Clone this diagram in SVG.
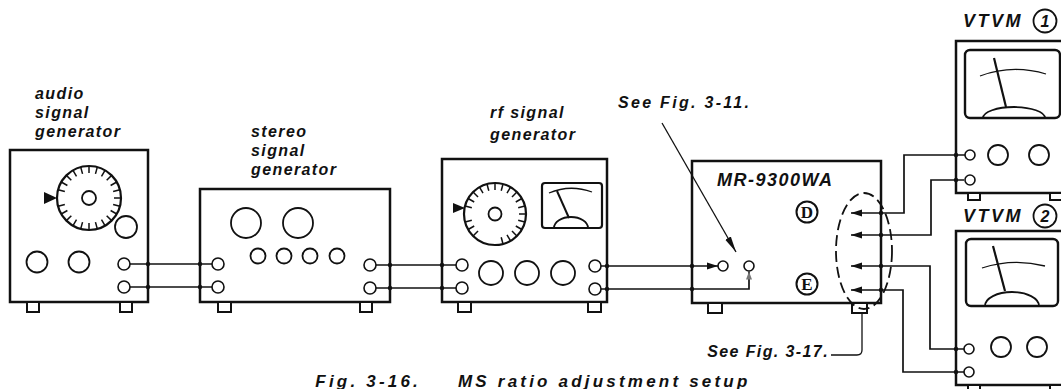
<svg xmlns="http://www.w3.org/2000/svg" width="1061" height="389" viewBox="0 0 1061 389">
<defs>
<style>
.bx{fill:none;stroke:#111;stroke-width:2.5}
.ft{fill:#fff;stroke:#111;stroke-width:2}
.kn{fill:#fff;stroke:#111;stroke-width:1.8}
.jk{fill:#fff;stroke:#111;stroke-width:1.6}
.w{fill:none;stroke:#111;stroke-width:1.7}
.thin{fill:none;stroke:#111;stroke-width:1.3}
.dot{fill:#111}
.lbl{font-family:"Liberation Sans",Arial,sans-serif;font-weight:bold;font-style:italic;font-size:16px;letter-spacing:1.4px;fill:#111}
.note{font-family:"Liberation Sans",Arial,sans-serif;font-weight:bold;font-style:italic;font-size:16px;letter-spacing:2.3px;fill:#111}
.model{font-family:"Liberation Sans",Arial,sans-serif;font-weight:bold;font-style:italic;font-size:18px;letter-spacing:1.5px;fill:#111}
.vt{font-family:"Liberation Sans",Arial,sans-serif;font-weight:bold;font-style:italic;font-size:18px;letter-spacing:2.5px;fill:#111}
.num{font-family:"Liberation Sans",Arial,sans-serif;font-weight:bold;font-style:italic;font-size:16px;fill:#111;text-anchor:middle}
.ser{font-family:"Liberation Serif","Times New Roman",serif;font-weight:bold;font-size:17px;fill:#111;text-anchor:middle}
.cap{font-family:"Liberation Sans",Arial,sans-serif;font-weight:bold;font-style:italic;font-size:17px;letter-spacing:3.2px;fill:#111}
</style>
<marker id="arrL" markerUnits="userSpaceOnUse" markerWidth="12" markerHeight="8" refX="11" refY="4" orient="auto-start-reverse"><path d="M0,0.6 L11,4 L0,7.4 z" fill="#111"/></marker>
<marker id="arrLong" markerUnits="userSpaceOnUse" markerWidth="17" markerHeight="8" refX="16" refY="4" orient="auto"><path d="M0,0.8 L16,4 L0,7.2 z" fill="#111"/></marker>
<marker id="arrGray" markerUnits="userSpaceOnUse" markerWidth="9" markerHeight="7" refX="8" refY="3.5" orient="auto"><path d="M0,0.5 L8,3.5 L0,6.5 z" fill="#777"/></marker>
<line id="tickA" x1="0" y1="-32" x2="0" y2="-25"/>
<line id="tickR" x1="0" y1="-31" x2="0" y2="-24"/>
</defs>

<rect width="1061" height="389" fill="#fff"/>

<!-- audio signal generator -->
<g id="audio-generator">
  <text class="lbl" x="35" y="99">audio</text>
  <text class="lbl" x="35" y="118">signal</text>
  <text class="lbl" x="35" y="137">generator</text>
  <rect class="bx" x="10" y="150" width="138" height="152"/>
  <rect class="ft" x="27" y="302" width="12" height="10"/>
  <rect class="ft" x="120" y="302" width="12" height="10"/>
  <circle cx="89" cy="198" r="32" fill="none" stroke="#111" stroke-width="2.2"/>
  <g transform="translate(89,198)" stroke="#111" stroke-width="1.5">
    <use href="#tickA" transform="rotate(0)"/><use href="#tickA" transform="rotate(15)"/>
    <use href="#tickA" transform="rotate(30)"/><use href="#tickA" transform="rotate(45)"/>
    <use href="#tickA" transform="rotate(60)"/><use href="#tickA" transform="rotate(75)"/>
    <use href="#tickA" transform="rotate(90)"/><use href="#tickA" transform="rotate(105)"/>
    <use href="#tickA" transform="rotate(120)"/><use href="#tickA" transform="rotate(135)"/>
    <use href="#tickA" transform="rotate(150)"/><use href="#tickA" transform="rotate(165)"/>
    <use href="#tickA" transform="rotate(180)"/><use href="#tickA" transform="rotate(195)"/>
    <use href="#tickA" transform="rotate(210)"/><use href="#tickA" transform="rotate(225)"/>
    <use href="#tickA" transform="rotate(240)"/><use href="#tickA" transform="rotate(255)"/>
    <use href="#tickA" transform="rotate(285)"/><use href="#tickA" transform="rotate(300)"/>
    <use href="#tickA" transform="rotate(315)"/><use href="#tickA" transform="rotate(330)"/>
    <use href="#tickA" transform="rotate(345)"/>
  </g>
  <circle class="kn" cx="89" cy="198" r="7"/>
  <polygon points="44,192 57,198 44,204" fill="#111"/>
  <circle class="kn" cx="126" cy="227" r="11"/>
  <circle class="kn" cx="37" cy="262" r="10.5"/>
  <circle class="kn" cx="79" cy="262" r="10.5"/>
  <circle class="jk" cx="124" cy="264" r="6"/>
  <circle class="jk" cx="124" cy="287" r="6"/>
</g>

<!-- stereo signal generator -->
<g id="stereo-generator">
  <text class="lbl" x="251" y="137">stereo</text>
  <text class="lbl" x="251" y="156">signal</text>
  <text class="lbl" x="251" y="175">generator</text>
  <rect class="bx" x="200" y="189" width="190" height="113"/>
  <rect class="ft" x="218" y="302" width="13" height="10"/>
  <rect class="ft" x="360" y="302" width="12" height="10"/>
  <circle class="kn" cx="246" cy="223" r="15"/>
  <circle class="kn" cx="298" cy="223" r="15"/>
  <circle class="kn" cx="258" cy="256" r="7.5"/>
  <circle class="kn" cx="284" cy="256" r="7.5"/>
  <circle class="kn" cx="310" cy="256" r="7.5"/>
  <circle class="kn" cx="337" cy="256" r="7.5"/>
  <circle class="jk" cx="218" cy="264" r="6"/>
  <circle class="jk" cx="218" cy="287" r="6"/>
  <circle class="jk" cx="370" cy="265" r="6"/>
  <circle class="jk" cx="370" cy="288" r="6"/>
</g>

<!-- rf signal generator -->
<g id="rf-generator">
  <text class="lbl" x="490" y="118">rf signal</text>
  <text class="lbl" x="490" y="140">generator</text>
  <rect class="bx" x="442" y="159" width="165" height="143"/>
  <rect class="ft" x="458" y="302" width="13" height="10"/>
  <rect class="ft" x="588" y="302" width="13" height="10"/>
  <circle cx="495" cy="214" r="31" fill="none" stroke="#111" stroke-width="2.2"/>
  <g transform="translate(495,214)" stroke="#111" stroke-width="1.5">
    <use href="#tickR" transform="rotate(-135)"/><use href="#tickR" transform="rotate(-120)"/>
    <use href="#tickR" transform="rotate(-105)"/><use href="#tickR" transform="rotate(-75)"/>
    <use href="#tickR" transform="rotate(-60)"/><use href="#tickR" transform="rotate(-45)"/>
    <use href="#tickR" transform="rotate(-30)"/><use href="#tickR" transform="rotate(-15)"/>
    <use href="#tickR" transform="rotate(0)"/><use href="#tickR" transform="rotate(15)"/>
    <use href="#tickR" transform="rotate(30)"/><use href="#tickR" transform="rotate(45)"/>
    <use href="#tickR" transform="rotate(60)"/><use href="#tickR" transform="rotate(75)"/>
    <use href="#tickR" transform="rotate(90)"/><use href="#tickR" transform="rotate(105)"/>
    <use href="#tickR" transform="rotate(120)"/><use href="#tickR" transform="rotate(135)"/>
    <use href="#tickR" transform="rotate(150)"/><use href="#tickR" transform="rotate(165)"/>
  </g>
  <circle class="kn" cx="495" cy="214" r="6.5"/>
  <polygon points="453,203 465,208 453,213" fill="#111"/>
  <rect x="542" y="183" width="60" height="45" rx="3" fill="none" stroke="#111" stroke-width="2.2"/>
  <path class="thin" d="M549,193 Q570,184 592,192"/>
  <line x1="557" y1="191" x2="569" y2="218" stroke="#111" stroke-width="2"/>
  <path d="M554,228 A17,11 0 0 1 588,228" fill="none" stroke="#111" stroke-width="1.8"/>
  <circle class="kn" cx="491" cy="273" r="12"/>
  <circle class="kn" cx="527" cy="273" r="12"/>
  <circle class="kn" cx="563" cy="273" r="12"/>
  <circle class="jk" cx="462" cy="265" r="6"/>
  <circle class="jk" cx="462" cy="288" r="6"/>
  <circle class="jk" cx="595" cy="266" r="6"/>
  <circle class="jk" cx="595" cy="289" r="6"/>
</g>

<!-- MR-9300WA unit under adjustment -->
<g id="mr-9300wa">
  <rect class="bx" x="692" y="161" width="189" height="142"/>
  <rect class="ft" x="708" y="303" width="14" height="10"/>
  <rect class="ft" x="852" y="303" width="15" height="10"/>
  <text class="model" x="717" y="186">MR-9300WA</text>
  <circle cx="807" cy="212" r="10.5" fill="#fff" stroke="#111" stroke-width="2"/>
  <text class="ser" x="807" y="218">D</text>
  <circle cx="807" cy="284" r="10.5" fill="#fff" stroke="#111" stroke-width="2"/>
  <text class="ser" x="807" y="290">E</text>
  <circle class="jk" cx="723" cy="266" r="5"/>
  <circle class="jk" cx="749" cy="266" r="5"/>
  <ellipse cx="864" cy="251" rx="28" ry="58" fill="none" stroke="#111" stroke-width="1.8" stroke-dasharray="11 5"/>
</g>

<!-- VTVM 1 -->
<g id="vtvm-1">
  <text class="vt" x="963" y="27">VTVM</text>
  <circle cx="1045" cy="21" r="11.5" fill="#fff" stroke="#111" stroke-width="1.8"/>
  <text class="num" x="1045" y="27">1</text>
  <rect class="bx" x="956" y="41" width="120" height="152"/>
  <rect class="ft" x="968" y="193" width="12" height="7"/>
  <rect class="ft" x="1050" y="193" width="12" height="7"/>
  <rect x="965" y="50" width="95" height="68" rx="5" fill="none" stroke="#111" stroke-width="2.4"/>
  <path class="thin" d="M980,76 Q1012,64 1046,74"/>
  <line x1="994" y1="58" x2="1006" y2="107" stroke="#111" stroke-width="2.2"/>
  <path d="M983,118 A31,11 0 0 1 1045,118" fill="none" stroke="#111" stroke-width="1.8"/>
  <circle class="jk" cx="970" cy="155" r="5"/>
  <circle class="kn" cx="998" cy="155" r="10"/>
  <circle class="kn" cx="1039" cy="155" r="10"/>
  <circle class="jk" cx="970" cy="180" r="5"/>
</g>

<!-- VTVM 2 -->
<g id="vtvm-2">
  <text class="vt" x="963" y="222">VTVM</text>
  <circle cx="1045" cy="216" r="11.5" fill="#fff" stroke="#111" stroke-width="1.8"/>
  <text class="num" x="1045" y="222">2</text>
  <rect class="bx" x="956" y="231" width="120" height="154"/>
  <rect class="ft" x="968" y="385" width="12" height="8"/>
  <rect class="ft" x="1050" y="385" width="12" height="8"/>
  <rect x="966" y="239" width="92" height="67" rx="5" fill="none" stroke="#111" stroke-width="2.4"/>
  <path class="thin" d="M982,268 Q1013,258 1045,266"/>
  <line x1="993" y1="246" x2="1005" y2="291" stroke="#111" stroke-width="2.2"/>
  <path d="M985,306 A27,14 0 0 1 1039,306" fill="none" stroke="#111" stroke-width="1.8"/>
  <circle class="jk" cx="969" cy="349" r="5"/>
  <circle class="kn" cx="1001" cy="347" r="10"/>
  <circle class="kn" cx="1037" cy="347" r="10"/>
  <circle class="jk" cx="969" cy="372" r="5"/>
</g>

<!-- cabling and reference leaders -->
<g id="connectors">
  <path class="w" d="M130,264 H212"/>
  <path class="w" d="M130,287 H212"/>
  <path class="w" d="M376,265 H456"/>
  <path class="w" d="M376,288 H456"/>
  <path class="w" d="M601,266 H718" marker-end="url(#arrL)"/>
  <path class="w" d="M601,289 H749 V271.5" marker-end="url(#arrGray)"/>
  <path class="w" d="M851,213 H904 V155 H965" marker-start="url(#arrL)"/>
  <path class="w" d="M851,235 H931 V180 H964" marker-start="url(#arrL)"/>
  <path class="w" d="M851,266 H930 V349 H964" marker-start="url(#arrL)"/>
  <path class="w" d="M851,290 H903 V372 H964" marker-start="url(#arrL)"/>
  <path class="thin" d="M662,123 L736,252" marker-end="url(#arrLong)"/>
  <path class="thin" d="M831,355 H857 Q862,355 862,350 V314"/>
  <g class="dot">
    <circle cx="148" cy="264" r="2.2"/><circle cx="148" cy="287" r="2.2"/>
    <circle cx="200" cy="264" r="2.2"/><circle cx="200" cy="287" r="2.2"/>
    <circle cx="390" cy="265" r="2.2"/><circle cx="390" cy="288" r="2.2"/>
    <circle cx="442" cy="265" r="2.2"/><circle cx="442" cy="288" r="2.2"/>
    <circle cx="607" cy="266" r="2.2"/><circle cx="607" cy="289" r="2.2"/>
    <circle cx="692" cy="266" r="2.2"/><circle cx="692" cy="289" r="2.2"/>
    <circle cx="881" cy="213" r="2.2"/><circle cx="881" cy="235" r="2.2"/>
    <circle cx="881" cy="266" r="2.2"/><circle cx="881" cy="290" r="2.2"/>
    <circle cx="956" cy="155" r="2.2"/><circle cx="956" cy="180" r="2.2"/>
    <circle cx="956" cy="349" r="2.2"/><circle cx="956" cy="372" r="2.2"/>
  </g>
</g>

<!-- reference notes and caption -->
<text class="note" x="618" y="108">See Fig. 3-11.</text>
<text class="lbl" x="829" y="357" text-anchor="end">See Fig. 3-17.</text>
<text class="cap" x="421" y="387" text-anchor="end">Fig. 3-16.</text>
<text class="cap" x="458" y="387">MS ratio adjustment setup</text>
</svg>
